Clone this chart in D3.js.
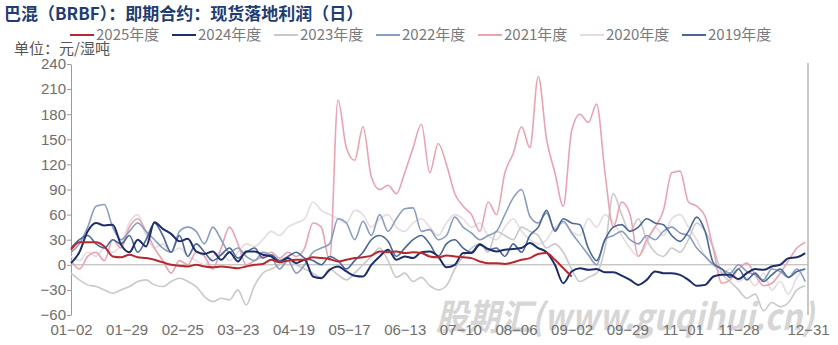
<!DOCTYPE html>
<html>
<head>
<meta charset="utf-8">
<script src="https://cdn.jsdelivr.net/npm/d3@7"></script>
<style>
  body { margin: 0; background: #fff; }
  svg { display: block; font-family: "Liberation Sans", "Noto Sans CJK SC", sans-serif; }
</style>
</head>
<body>
<div id="container"></div>
<script>
/* CONSTANTS AND GLOBALS */
const width = 838,
  height = 345,
  margin = { top: 64, bottom: 30, left: 71, right: 30 }

const STEP = 3 // trading-day slots between two stored points

/* DATA */
const xTickSlots = [0, 20, 40, 60, 80, 100, 120, 140, 160, 180, 200, 220, 240, 265]
const xTickLabels = ["01-02", "01-29", "02-25", "03-23", "04-19", "05-17", "06-13",
  "07-10", "08-06", "09-02", "09-29", "11-01", "11-28", "12-31"]
const yTicks = [-60, -30, 0, 30, 60, 90, 120, 150, 180, 210, 240]

const years = ["2025年度", "2024年度", "2023年度", "2022年度", "2021年度", "2020年度", "2019年度"]
const colors = ["#b8282e", "#1d2d6b", "#c9c9c9", "#8a9dbf", "#eaa3b1", "#e6dcdf", "#4a6798"]

const y2025 = [18, 27, 27, 27, 22, 10, 9, 12, 9, 8, 6, 3, 0, -1, -2, 0, -2, -3, -2, -3,
  -4, -2, 0, 1, 6, 3, 5, 6, 6, 9, 8, 7, 4, 6, 8, 9, 11, 16, 15, 16,
  14, 15, 14, 10, 9, 11, 10, 9, 8, 4, 2, 2, 1, 3, 6, 8, 13, 14, 6, -4, -14]

const y2024 = [2, 15, 40, 50, 47, 48, 24, 15, 30, 22, 51, 43, 37, 28, 31, 16, 13, 16, 6, 15,
  4, 16, 16, 12, 10, 3, 8, 2, 6, -14, -16, -6, -2, -8, -13, -14, 0, 10, 18, 6,
  10, 8, 15, 16, 10, -3, 0, 14, 14, 24, 19, 16, 18, 19, 20, 26, 20, 15, 0, -22,
  -8, -4, -6, -5, -9, -9, -13, -18, -24, -18, -8, -10, -10, -12, -18, -25, -24, -14, -12, -12,
  -17, -10, -5, -6, -2, 0, 8, 9, 14]

const y2023 = [-10, -18, -24, -26, -30, -34, -30, -26, -20, -18, -24, -26, -20, -16, -20, -26, -38, -44, -40, -42,
  -30, -48, -25, -10, -5, 0, 5, 0, -5, -10, -15, -5, -12, -18, -10, 0, 10, 20, 5, -15,
  -10, -20, -15, -25, -30, -25, -5, 10, 20, 25, 15, 40, 35, 30, 45, 40, 35, 20, 25, 15,
  -5, -20, -15, -10, 20, 85, 60, 40, 55, 30, 15, 10, 20, 15, 30, 50, 40, 20, -10, -20,
  -30, -40, -35, -55, -45, -50, -45, -30, -25]

const y2022 = [15, 25, 45, 70, 72, 45, 30, 40, 50, 40, 30, 20, 15, 40, 45, 40, 25, 45, 30, 15,
  20, 10, 5, 15, 10, -5, 5, -10, 0, 15, 20, 25, 55, 50, 30, 52, 35, 60, 40, 55,
  67, 68, 40, 42, 30, 35, 57, 45, 38, 30, 35, 40, 60, 80, 90, 58, 50, 62, 42, 52,
  38, 25, 12, 0, 30, 35, 40, 30, 25, 35, 30, 40, 45, 38, 35, 20, 10, 0, -5, -10,
  0, -8, -12, -18, -5, -8, -15, -5, -20]

const y2021 = [5, -5, 10, 15, 5, 30, 20, 45, 55, 40, 20, 5, -10, 5, 0, 15, 10, -5, 20, 45,
  25, 0, 5, 10, 15, 8, 15, 10, 20, 50, 45, 5, 197, 140, 125, 165, 105, 90, 95, 85,
  110, 140, 168, 110, 145, 120, 85, 70, 60, 40, 75, 60, 110, 133, 165, 140, 225, 150, 110, 70,
  160, 180, 170, 192, 110, 45, 75, 60, 10, 30, 45, 65, 110, 112, 75, 70, 58, 18, -22, -18,
  -5, 2, -12, -25, -22, -10, 5, 20, 27]

const y2020 = [10, 5, 15, 10, 20, 15, 25, 50, 60, 35, 20, 25, 15, 20, 10, 5, 0, 10, 15, 5,
  15, 25, 22, 30, 40, 35, 45, 50, 55, 75, 65, 60, 55, 50, 65, 60, 45, 55, 60, 45,
  40, 50, 55, 45, 35, 50, 60, 55, 45, 50, 35, 30, 45, 55, 40, 30, 25, 30, 45, 50,
  40, 35, 55, 45, 60, 50, 35, 20, 10, 25, 45, 35, 55, 60, 45, 30, 10, 0, -10, -5,
  -20, -15, -25, -10, -30, -20, -35, -15, -5]

const y2019 = [20, 30, 35, 25, 20, 30, 25, 35, 15, 30, 50, 35, 15, 35, 10, 25, 15, 5, 12, 20,
  8, 15, 20, 8, 12, 5, 10, 15, 8, 5, 0, 10, 5, -5, 5, 15, 30, 35, 28, 10,
  20, 30, 35, 25, 10, 25, 30, 20, 15, 25, 18, 20, 10, 25, 15, 35, 45, 65, 40, 55,
  50, 48, 20, 5, 30, 45, 48, 40, 45, 55, 50, 48, 35, 28, 40, 57, 40, 2, -5, -15,
  -5, -18, -10, -20, -12, -5, -15, -8, -5]

const seriesValues = [y2025, y2024, y2023, y2022, y2021, y2020, y2019]
// draw order: faint years at the back, current years on top
const drawOrder = [5, 2, 4, 3, 6, 1, 0]

/* SCALES */
const xScale = d3.scaleLinear()
  .domain([0, 265])
  .range([margin.left, width - margin.right])

const yScale = d3.scaleLinear()
  .domain([-60, 240])
  .range([height - margin.bottom, margin.top])

/* CREATE SVG ELEMENT */
const svg = d3.select("#container")
  .append("svg")
  .attr("width", width)
  .attr("height", height)

svg.append("rect")
  .attr("width", width)
  .attr("height", height)
  .attr("fill", "#fff")

// title + unit
svg.append("text")
  .attr("x", 4)
  .attr("y", 20)
  .attr("font-family", "'Noto Sans CJK SC', sans-serif")
  .attr("font-size", 17)
  .attr("font-weight", "bold")
  .attr("fill", "#213c72")
  .text("巴混（BRBF）：即期合约：现货落地利润（日）")

svg.append("text")
  .attr("x", 14)
  .attr("y", 54)
  .attr("font-family", "'Noto Sans CJK SC', sans-serif")
  .attr("font-size", 15)
  .attr("fill", "#555")
  .text("单位：元/湿吨")

// LEGEND
const legend = svg.append("g")
  .selectAll("g")
  .data(years)
  .join("g")
  .attr("transform", (d, i) => `translate(${70 + i * 102}, 35)`)

legend.append("line")
  .attr("x1", 0).attr("x2", 24)
  .attr("stroke", (d, i) => colors[i])
  .attr("stroke-width", 2)

legend.append("text")
  .attr("x", 26)
  .attr("dy", "0.35em")
  .attr("font-family", "'Noto Sans CJK SC', sans-serif")
  .attr("font-size", 15)
  .attr("fill", "#7a7a7a")
  .text(d => d)

/* AXES */
const yAxis = d3.axisLeft(yScale)
  .tickValues(yTicks)
  .tickSize(4)
  .tickSizeOuter(0)
  .tickPadding(1)

const yAxisGroup = svg.append("g")
  .attr("class", "yAxis")
  .attr("transform", `translate(${margin.left}, 0)`)
  .call(yAxis)

yAxisGroup.selectAll("path, line").attr("stroke", "#9a9a9a")
yAxisGroup.selectAll("text")
  .attr("font-size", 15)
  .attr("fill", "#6e6e6e")
  .text(d => d < 0 ? "\u2212" + Math.abs(d) : d)

// watermark of the source image (sits under the axis labels)
svg.append("text")
  .attr("x", 436)
  .attr("y", 330)
  .attr("font-family", "'Noto Sans CJK SC', sans-serif")
  .attr("font-size", 36)
  .attr("font-weight", "bold")
  .attr("font-style", "italic")
  .attr("fill", "#9a9a9a")
  .attr("opacity", 0.4)
  .attr("textLength", 378)
  .attr("lengthAdjust", "spacingAndGlyphs")
  .text("股期汇(www.guqihui.cn)")

const xAxis = d3.axisBottom(xScale)
  .tickValues(xTickSlots)
  .tickFormat((d, i) => xTickLabels[i])
  .tickSize(0)
  .tickPadding(9)

const xAxisGroup = svg.append("g")
  .attr("class", "xAxis")
  .attr("transform", `translate(0, ${height - margin.bottom})`)
  .call(xAxis)

xAxisGroup.select(".domain").remove()
xAxisGroup.selectAll("text")
  .attr("font-size", 15)
  .attr("fill", "#6e6e6e")
  .text((d, i) => xTickLabels[i].replace("-", "\u2212"))

// right frame line and zero line
svg.append("line")
  .attr("x1", xScale(265)).attr("x2", xScale(265))
  .attr("y1", yScale(240) - 1).attr("y2", yScale(-60))
  .attr("stroke", "#b5b5b5")
  .attr("stroke-width", 1.5)

svg.append("line")
  .attr("x1", xScale(0)).attr("x2", xScale(265))
  .attr("y1", yScale(0)).attr("y2", yScale(0))
  .attr("stroke", "#b0b0b0")

/* LINES */
const lineGen = d3.line()
  .x((d, i) => xScale(i * STEP))
  .y(d => yScale(d))
  .curve(d3.curveMonotoneX)

svg.append("g")
  .selectAll(".line")
  .data(drawOrder)
  .join("path")
  .attr("class", "line")
  .attr("fill", "none")
  .attr("stroke", k => colors[k])
  .attr("stroke-width", k => (k <= 1 ? 2 : 1.6))
  .attr("stroke-linejoin", "round")
  .attr("d", k => lineGen(seriesValues[k]))
</script>
</body>
</html>
